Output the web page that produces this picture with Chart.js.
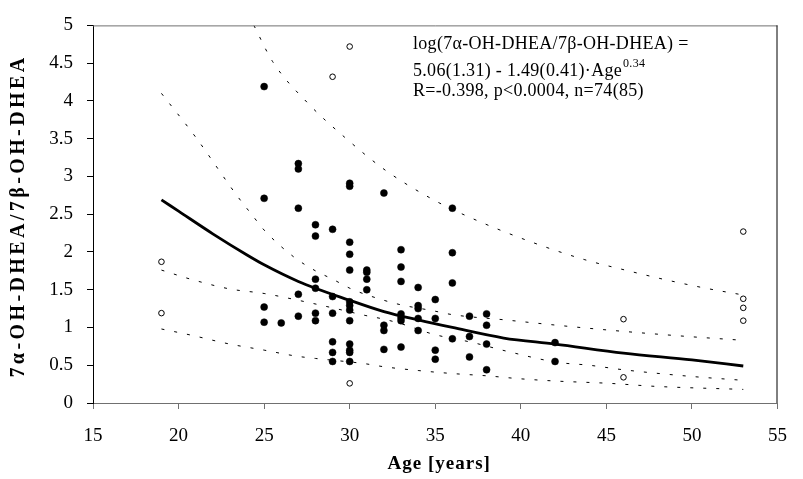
<!DOCTYPE html>
<html>
<head>
<meta charset="utf-8">
<script src="https://cdn.jsdelivr.net/npm/chart.js@4.4.0/dist/chart.umd.min.js"></script>
<style>
  html, body { margin: 0; padding: 0; background: #ffffff; }
  #wrap { width: 803px; height: 479px; }
</style>
</head>
<body>
<div id="wrap"><canvas id="c" width="803" height="479"></canvas></div>
<script>
// Axis ticks
const ageTicks = [15, 20, 25, 30, 35, 40, 45, 50, 55];
const ratioTicks = [0, 0.5, 1, 1.5, 2, 2.5, 3, 3.5, 4, 4.5, 5];

// Subjects used in the regression (filled markers)
const includedAge = [
  25, 25, 25, 25,
  26,
  27, 27, 27, 27, 27,
  28, 28, 28, 28, 28, 28,
  29, 29, 29, 29, 29, 29,
  30, 30, 30, 30, 30, 30, 30, 30, 30, 30, 30, 30, 30,
  31, 31, 31, 31,
  32, 32, 32, 32,
  33, 33, 33, 33, 33, 33, 33,
  34, 34, 34, 34, 34,
  35, 35, 35, 35,
  36, 36, 36, 36,
  37, 37, 37,
  38, 38, 38, 38,
  42, 42
];
const includedRatio = [
  4.19, 2.71, 1.27, 1.07,
  1.06,
  3.17, 3.10, 2.58, 1.44, 1.15,
  2.36, 2.21, 1.64, 1.52, 1.19, 1.09,
  2.30, 1.41, 1.19, 0.81, 0.67, 0.55,
  2.91, 2.87, 2.13, 1.97, 1.76, 1.34, 1.29, 1.23, 1.09, 0.78, 0.70, 0.67, 0.55,
  1.76, 1.73, 1.64, 1.50,
  2.78, 1.03, 0.96, 0.71,
  2.03, 1.80, 1.61, 1.18, 1.13, 1.09, 0.74,
  1.53, 1.29, 1.25, 1.12, 0.96,
  1.37, 1.12, 0.70, 0.58,
  2.58, 1.99, 1.59, 0.85,
  1.15, 0.88, 0.61,
  1.18, 1.03, 0.78, 0.44,
  0.80, 0.55
];

// Subjects left out of the regression (open markers)
const excludedAge = [19, 19, 29, 30, 30, 46, 46, 53, 53, 53, 53];
const excludedRatio = [1.87, 1.19, 4.32, 4.72, 0.26, 1.11, 0.34, 2.27, 1.38, 1.26, 1.09];

// Fitted curve
const fitAge = [19, 20, 22, 24, 25, 27, 30, 32, 34, 36, 39, 42, 46, 50, 53];
const fitRatio = [2.69, 2.54, 2.24, 1.96, 1.83, 1.61, 1.36, 1.21, 1.10, 1.00, 0.86, 0.78, 0.66, 0.57, 0.49];

// Outer upper band
const outerUpperAge = [24.4, 25.5, 27.6, 29.7, 32.1, 34.9, 37, 40.4, 43.7, 46.1, 48.5, 50.8, 53];
const outerUpperRatio = [5.0, 4.52, 3.96, 3.52, 3.08, 2.69, 2.46, 2.15, 1.90, 1.76, 1.63, 1.52, 1.43];

// Inner upper band
const innerUpperAge = [19, 21, 23.4, 24.4, 25, 26.7, 28, 29, 30.1, 32, 33, 34.9, 36, 39.1, 42.1, 45.4, 49.8, 53];
const innerUpperRatio = [4.10, 3.52, 2.75, 2.46, 2.29, 1.94, 1.75, 1.64, 1.51, 1.36, 1.30, 1.22, 1.17, 1.10, 1.03, 0.96, 0.88, 0.83];

// Inner lower band
const innerLowerAge = [19, 20.7, 23, 25, 27, 29, 30.9, 32, 33, 34.9, 37.2, 39.1, 42.1, 44, 46, 49.8, 53];
const innerLowerRatio = [1.76, 1.64, 1.51, 1.45, 1.36, 1.26, 1.16, 1.11, 1.05, 0.91, 0.80, 0.69, 0.54, 0.50, 0.44, 0.355, 0.30];

// Outer lower band
const outerLowerAge = [19, 20.7, 23, 25, 26.9, 28, 30.9, 32, 34, 36, 38, 40, 42.1, 45.2, 47.9, 53];
const outerLowerRatio = [0.98, 0.90, 0.78, 0.70, 0.62, 0.59, 0.52, 0.48, 0.43, 0.39, 0.36, 0.32, 0.29, 0.26, 0.22, 0.18];

const pts = (xs, ys) => xs.map((x, i) => ({ x: x, y: ys[i] }));

const SERIF = '"Liberation Serif", "Times New Roman", serif';
const X_TITLE = 'Age [years]';
const Y_TITLE = '7\u03B1-OH-DHEA/7\u03B2-OH-DHEA';

function band(label, xs, ys) {
  return {
    type: 'line', label: label, data: pts(xs, ys),
    borderColor: '#000', borderWidth: 1, borderDash: [3, 10],
    pointRadius: 0, fill: false, cubicInterpolationMode: 'monotone', order: 3
  };
}

// Frame lines on top and right, axis titles and the regression annotation
const framePlugin = {
  id: 'frame',
  afterDraw(chart) {
    const { ctx, chartArea: a } = chart;
    ctx.save();
    ctx.lineWidth = 1;
    ctx.strokeStyle = '#707070';
    ctx.beginPath();
    ctx.moveTo(a.left, a.top + 0.5);
    ctx.lineTo(a.right, a.top + 0.5);
    ctx.stroke();
    ctx.strokeStyle = '#000';
    ctx.beginPath();
    ctx.moveTo(a.right - 0.5, a.top);
    ctx.lineTo(a.right - 0.5, a.bottom);
    ctx.stroke();

    ctx.fillStyle = '#000';

    // axis titles
    ctx.textAlign = 'center';
    ctx.textBaseline = 'middle';
    ctx.font = 'bold 19px ' + SERIF;
    ctx.letterSpacing = '1px';
    ctx.fillText(X_TITLE, (a.left + a.right) / 2 + 4, 464);
    ctx.save();
    ctx.translate(19, 216);
    ctx.rotate(-Math.PI / 2);
    ctx.font = 'bold 20px ' + SERIF;
    ctx.letterSpacing = '3.4px';
    ctx.fillText(Y_TITLE, 0, 0);
    ctx.restore();

    // regression annotation
    ctx.textBaseline = 'alphabetic';
    ctx.textAlign = 'left';
    ctx.letterSpacing = '0.3px';
    const x0 = 413;
    ctx.font = '18px ' + SERIF;
    ctx.fillText('log(7\u03B1-OH-DHEA/7\u03B2-OH-DHEA) =', x0, 49);
    const line2 = '5.06(1.31) - 1.49(0.41)\u00B7Age';
    ctx.fillText(line2, x0, 76);
    const w2 = ctx.measureText(line2).width;
    ctx.fillText('R=-0.398, p<0.0004, n=74(85)', x0, 96);
    ctx.font = '12px ' + SERIF;
    ctx.fillText('0.34', x0 + w2 + 1, 67);
    ctx.restore();
  }
};

new Chart(document.getElementById('c'), {
  type: 'scatter',
  data: {
    datasets: [
      {
        type: 'scatter', label: 'included', data: pts(includedAge, includedRatio),
        pointRadius: 3.5, pointBackgroundColor: '#000', pointBorderColor: '#000',
        pointBorderWidth: 0.5, order: 1
      },
      {
        type: 'scatter', label: 'excluded', data: pts(excludedAge, excludedRatio),
        pointRadius: 2.8, pointBackgroundColor: '#fff', pointBorderColor: '#000',
        pointBorderWidth: 1, order: 1
      },
      {
        type: 'line', label: 'fit', data: pts(fitAge, fitRatio),
        borderColor: '#000', borderWidth: 2.8, pointRadius: 0, fill: false,
        cubicInterpolationMode: 'monotone', order: 2
      },
      band('outer upper', outerUpperAge, outerUpperRatio),
      band('inner upper', innerUpperAge, innerUpperRatio),
      band('inner lower', innerLowerAge, innerLowerRatio),
      band('outer lower', outerLowerAge, outerLowerRatio)
    ]
  },
  options: {
    responsive: false,
    animation: false,
    devicePixelRatio: 1,
    layout: { padding: { top: 18, right: 12, left: 0, bottom: 0 } },
    plugins: { legend: { display: false }, tooltip: { enabled: false } },
    scales: {
      x: {
        type: 'linear', min: ageTicks[0], max: ageTicks[ageTicks.length - 1],
        afterBuildTicks: (s) => { s.ticks = ageTicks.map(v => ({ value: v })); },
        afterFit: (s) => { s.height = 76; },
        ticks: { color: '#000', font: { family: SERIF, size: 19 }, padding: 16, maxRotation: 0,
                 callback: (v) => String(v) },
        grid: { drawOnChartArea: false, drawTicks: true, tickLength: 6, color: '#707070' },
        border: { display: true, color: '#707070', width: 1 },
        title: { display: false }
      },
      y: {
        type: 'linear', min: ratioTicks[0], max: ratioTicks[ratioTicks.length - 1],
        afterBuildTicks: (s) => { s.ticks = ratioTicks.map(v => ({ value: v })); },
        afterFit: (s) => { s.width = 93; },
        ticks: { color: '#000', font: { family: SERIF, size: 19 }, padding: 14,
                 callback: (v) => String(v) },
        grid: { drawOnChartArea: false, drawTicks: true, tickLength: 6, color: '#000' },
        border: { display: true, color: '#000', width: 1 },
        title: { display: false }
      }
    }
  },
  plugins: [framePlugin]
});
</script>
</body>
</html>
